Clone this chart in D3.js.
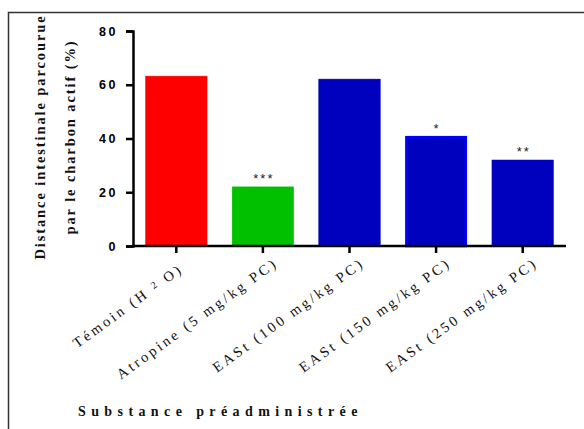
<!DOCTYPE html>
<html><head><meta charset="utf-8">
<script src="https://cdn.jsdelivr.net/npm/d3@7"></script>
<style>body{margin:0;background:#fff}svg{display:block}</style>
</head><body>
<svg id="chart" width="584" height="429"></svg>
<script>
const categories = ["Témoin (H2O)", "Atropine (5 mg/kg PC)", "EASt (100 mg/kg PC)", "EASt (150 mg/kg PC)", "EASt (250 mg/kg PC)"];
const values = [63.2, 22, 62.1, 40.5, 32];
const stars = ["", "***", "", "*", "**"];
const barColors = ["#ff0000", "#00c000", "#0000bf", "#0000bf", "#0000bf"];
const barStrokes = ["#ff0000", "#00c000", "#0000bf", "#0000ff", "#0000bf"];
const yTicks = [0, 20, 40, 60, 80];
const yTitle = ["Distance intestinale parcourue", "par le charbon actif (%)"];
const xTitle = "Substance préadministrée";

const svg = d3.select("#chart");
svg.append("rect").attr("x", 8.5).attr("y", 12.5).attr("width", 640).attr("height", 500)
  .attr("fill", "none").attr("stroke", "#333").attr("stroke-width", 1.5);

const x0 = 133, x1 = 566, yTop = 31, yBot = 246;
const x = d3.scaleBand().domain(categories).range([x0, x1]).paddingInner(0.29).paddingOuter(0.145);
const y = d3.scaleLinear().domain([0, 80]).range([yBot, yTop]);

svg.selectAll("rect.bar").data(values).join("rect").attr("class", "bar")
  .attr("x", (d, i) => x(categories[i]) + (i === 3 ? 1 : 0))
  .attr("y", d => y(d) + 0)
  .attr("width", (d, i) => x.bandwidth() - (i === 3 ? 2 : 0))
  .attr("height", d => yBot - y(d))
  .attr("fill", (d, i) => barColors[i])
  .attr("stroke", (d, i) => barStrokes[i])
  .attr("stroke-width", (d, i) => i === 3 ? 2.5 : 0.5);

// stars
svg.selectAll("text.star").data(values).join("text").attr("class", "star")
  .attr("x", (d, i) => x(categories[i]) + x.bandwidth() / 2 + 1)
  .attr("y", d => y(d) - 4)
  .attr("text-anchor", "middle")
  .attr("font-family", "Liberation Sans, Arial, sans-serif")
  .attr("font-size", 13).attr("letter-spacing", 2).attr("fill", "#222")
  .text((d, i) => stars[i]);

// y axis
const yAxis = d3.axisLeft(y).tickValues(yTicks).tickSize(7).tickPadding(8);
const gy = svg.append("g").attr("transform", `translate(${x0},0)`).call(yAxis);
gy.select(".domain").attr("stroke", "#000").attr("stroke-width", 2.5);
gy.selectAll(".tick line").attr("stroke", "#000").attr("stroke-width", 2.5);
gy.selectAll(".tick text").attr("font-family", "Liberation Sans, Arial, sans-serif")
  .attr("font-weight", "bold").attr("font-size", 12.5).attr("letter-spacing", 2.5).attr("fill", "#000");

// x axis
const xAxis = d3.axisBottom(x).tickSize(7).tickFormat("");
const gx = svg.append("g").attr("transform", `translate(0,${yBot})`).call(xAxis);
gx.select(".domain").attr("stroke", "#000").attr("stroke-width", 2.5).attr("d", `M${x0},0H${x1}`);
gx.selectAll(".tick line").attr("stroke", "#000").attr("stroke-width", 2.5);

// x labels
const lab = svg.selectAll("text.xl").data(categories).join("text").attr("class", "xl")
  .attr("transform", d => {
    const extra = d.includes("H2O") ? 10 : 0;
    return `translate(${x(d) + x.bandwidth() / 2 + 16},${yBot + 19}) rotate(-36) translate(${-extra},0)`;
  })
  .attr("text-anchor", "end")
  .attr("font-family", "Liberation Serif, Times New Roman, serif")
  .attr("font-size", 14.5).attr("letter-spacing", 2.9).attr("fill", "#111");
lab.each(function (d) {
  const t = d3.select(this);
  if (d.includes("H2O")) {
    t.append("tspan").text("Témoin (H ");
    t.append("tspan").attr("font-size", 10).attr("dy", -3).text("2");
    t.append("tspan").attr("dy", 3).text(" O)");
  } else {
    t.text(d);
  }
});

// y title
yTitle.forEach((s, i) => {
  svg.append("text")
    .attr("transform", `translate(${45 + i * 30},137) rotate(-90)`)
    .attr("text-anchor", "middle")
    .attr("font-family", "Liberation Serif, Times New Roman, serif")
    .attr("font-weight", "bold").attr("font-size", 14.5).attr("letter-spacing", 1.9)
    .attr("fill", "#111").text(s);
});

// x title
svg.append("text").attr("x", 78).attr("y", 416)
  .attr("font-family", "Liberation Serif, Times New Roman, serif")
  .attr("font-weight", "bold").attr("font-size", 14).attr("letter-spacing", 5.4)
  .attr("fill", "#111").text(xTitle);
</script>
</body></html>
